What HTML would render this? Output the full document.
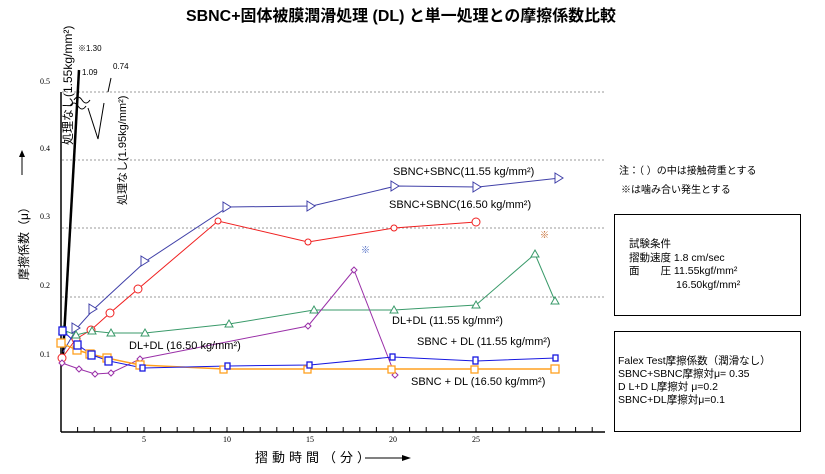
<!DOCTYPE html>
<html><head><meta charset="utf-8"><style>
body{margin:0;background:#fff}
svg{display:block;font-family:"Liberation Sans","Noto Sans CJK JP",sans-serif}
</style></head><body>
<svg width="825" height="474" viewBox="0 0 825 474" xmlns="http://www.w3.org/2000/svg">
<rect width="825" height="474" fill="#fff"/>
<text x="401" y="21" font-size="16" font-weight="bold" text-anchor="middle" textLength="430" lengthAdjust="spacingAndGlyphs">SBNC+固体被膜潤滑処理 (DL) と単一処理との摩擦係数比較</text>
<!-- grid -->
<g stroke="#999" stroke-dasharray="2,2" stroke-width="1">
<line x1="62" y1="92" x2="605" y2="92"/><line x1="62" y1="160" x2="605" y2="160"/>
<line x1="62" y1="228" x2="605" y2="228"/><line x1="62" y1="297" x2="605" y2="297"/>
</g>
<!-- axes -->
<line x1="61" y1="92" x2="61" y2="432" stroke="#000" stroke-width="1.5"/>
<line x1="61" y1="432" x2="605" y2="432" stroke="#000" stroke-width="1.5"/>
<g stroke="#000" stroke-width="1">
<path d="M77.6 432v-5M94.2 432v-5M110.8 432v-5M127.4 432v-5M144 432v-5M160.6 432v-5M177.2 432v-5M193.8 432v-5M210.4 432v-5M227 432v-5M243.6 432v-5M260.2 432v-5M276.8 432v-5M293.4 432v-5M310 432v-5M326.6 432v-5M343.2 432v-5M359.8 432v-5M376.4 432v-5M393 432v-5M409.6 432v-5M426.2 432v-5M442.8 432v-5M459.4 432v-5M476 432v-5M492.6 432v-5M509.2 432v-5M525.8 432v-5M542.4 432v-5M559 432v-5M575.6 432v-5M592.2 432v-5"/>
</g>
<g font-size="8" font-family="Liberation Serif,serif" text-anchor="middle">
<text x="144" y="442">5</text><text x="227" y="442">10</text><text x="310" y="442">15</text><text x="393" y="442">20</text><text x="476" y="442">25</text>
</g>
<g font-size="8" font-family="Liberation Serif,serif">
<text x="40" y="84">0.5</text><text x="40" y="151">0.4</text><text x="40" y="219">0.3</text><text x="40" y="288">0.2</text><text x="40" y="357">0.1</text>
</g>
<text transform="translate(28,280) rotate(-90)" font-size="12">摩擦係数（μ）</text>
<line x1="22" y1="175" x2="22" y2="151" stroke="#000"/><path d="M19 157L22 150L25 157Z" fill="#000"/>
<text x="255" y="462" font-size="13" letter-spacing="4">摺動時間（分）</text>
<line x1="365" y1="458" x2="408" y2="458" stroke="#000"/><path d="M402 455L411 458L402 461Z" fill="#000"/>
<!-- black no-treatment lines -->
<path d="M63 355L79 70" stroke="#000" stroke-width="2.5" fill="none"/>
<path d="M74 100 q4 -6 8 0 q4 6 8 0" stroke="#000" fill="none"/>
<path d="M70 106 q4 -6 8 0 q4 6 8 0" stroke="#000" fill="none"/>
<path d="M88 108L98 139L104 103" stroke="#000" fill="none"/>
<path d="M108 92L111 78" stroke="#000" fill="none"/>
<text x="78" y="51" font-size="8">※1.30</text>
<text x="82" y="75" font-size="8">1.09</text>
<text x="113" y="69" font-size="8">0.74</text>
<text transform="translate(72,145) rotate(-90)" font-size="12">処理なし(1.55kg/mm²)</text>
<text transform="translate(126,205) rotate(-90)" font-size="11">処理なし(1.95kg/mm²)</text>
<!-- series -->
<g fill="none" stroke-width="1">
<polyline stroke="#4040a8" points="63,352 77,328 94,309 146,261 228,207 312,206 396,186 478,187 560,178"/>
<polyline stroke="#f02020" points="62,358 76,339 91,330 110,313 138,289 218,221 308,242 394,228 476,222"/>
<polyline stroke="#3a9a6a" points="63,330 76,335 92,331 111,333 145,333 229,324 314,310 394,310 476,305 535,254 555,301"/>
<polyline stroke="#9a30a8" points="62,363 79,369 95,374 111,373 140,359 308,326 354,270 395,375"/>
<polyline stroke="#ffa020" stroke-width="1.5" points="61,343 77,350 90,354 107,358 140,365 224,369 308,369 392,369 475,369 555,369"/>
<polyline stroke="#1818e0" points="63,331 78,345 92,355 109,361 143,368 228,366 310,365 393,357 476,361 556,358"/>
</g>
<g fill="#fff" stroke="#4040a8">
<path d="M72 323l8 5l-8 5z M89 304l8 5l-8 5z M141 256l8 5l-8 5z M223 202l8 5l-8 5z M307 201l8 5l-8 5z M391 181l8 5l-8 5z M473 182l8 5l-8 5z M555 173l8 5l-8 5z"/>
</g>
<g fill="#fff" stroke="#f02020">
<circle cx="62" cy="358" r="4"/><circle cx="76" cy="339" r="4"/><circle cx="91" cy="330" r="4"/><circle cx="110" cy="313" r="4"/><circle cx="138" cy="289" r="4"/><circle cx="218" cy="221" r="3"/><circle cx="308" cy="242" r="3"/><circle cx="394" cy="228" r="3"/><circle cx="476" cy="222" r="4"/>
</g>
<g fill="#fff" stroke="#3a9a6a">
<path d="M63 326l4 7h-8z M76 331l4 7h-8z M92 327l4 7h-8z M111 329l4 7h-8z M145 329l4 7h-8z M229 320l4 7h-8z M314 306l4 7h-8z M394 306l4 7h-8z M476 301l4 7h-8z M535 250l4 7h-8z M555 297l4 7h-8z"/>
</g>
<g fill="#fff" stroke="#9a30a8">
<path d="M62 360l3 3l-3 3l-3-3z M79 366l3 3l-3 3l-3-3z M95 371l3 3l-3 3l-3-3z M111 370l3 3l-3 3l-3-3z M140 356l3 3l-3 3l-3-3z M308 323l3 3l-3 3l-3-3z M354 267l3 3l-3 3l-3-3z M395 372l3 3l-3 3l-3-3z"/>
</g>
<g fill="#fff" stroke="#ffa020" stroke-width="1.3">
<rect x="57" y="339" width="8" height="8"/><rect x="73" y="346" width="8" height="8"/><rect x="86" y="350" width="8" height="8"/><rect x="103" y="354" width="8" height="8"/><rect x="136" y="361" width="8" height="8"/><rect x="220" y="366" width="7" height="7"/><rect x="304" y="366" width="7" height="7"/><rect x="388" y="366" width="7" height="7"/><rect x="471" y="366" width="7" height="7"/><rect x="551" y="365" width="8" height="8"/>
</g>
<g fill="#fff" stroke="#1818e0" stroke-width="1.3">
<rect x="59" y="327" width="7" height="8"/><rect x="74" y="341" width="7" height="8"/><rect x="88" y="351" width="7" height="8"/><rect x="105" y="357" width="7" height="8"/><rect x="140" y="365" width="5" height="6"/><rect x="225" y="363" width="5" height="6"/><rect x="307" y="362" width="5" height="6"/><rect x="390" y="354" width="5" height="6"/><rect x="473" y="357" width="5" height="7"/><rect x="553" y="355" width="5" height="6"/>
</g>
<text x="361" y="253" font-size="9" fill="#4060c0">※</text>
<text x="540" y="238" font-size="9" fill="#c06020">※</text>
<!-- series labels -->
<g font-size="11">
<text x="393" y="175">SBNC+SBNC(11.55 kg/mm²)</text>
<text x="389" y="208">SBNC+SBNC(16.50 kg/mm²)</text>
<text x="392" y="324">DL+DL (11.55 kg/mm²)</text>
<text x="417" y="345">SBNC + DL (11.55 kg/mm²)</text>
<text x="411" y="385">SBNC + DL (16.50 kg/mm²)</text>
<text x="129" y="349">DL+DL  (16.50 kg/mm²)</text>
</g>
<g font-size="10">
<text x="619" y="174">注：（ ）の中は接触荷重とする</text>
<text x="621" y="193">※は噛み合い発生とする</text>
</g>
<rect x="614.5" y="214.5" width="186" height="101" fill="none" stroke="#000"/>
<g font-size="10.5">
<text x="629" y="247">試験条件</text>
<text x="629" y="261">摺動速度 1.8 cm/sec</text>
<text x="629" y="274">面　　圧 11.55kgf/mm²</text>
<text x="676" y="288">16.50kgf/mm²</text>
</g>
<rect x="614.5" y="331.5" width="186" height="100" fill="none" stroke="#000"/>
<g font-size="10.5">
<text x="618" y="364">Falex Test摩擦係数（潤滑なし）</text>
<text x="618" y="377">SBNC+SBNC摩擦対μ= 0.35</text>
<text x="618" y="390">D L+D L摩擦対 μ=0.2</text>
<text x="618" y="403">SBNC+DL摩擦対μ=0.1</text>
</g>
</svg>
</body></html>
